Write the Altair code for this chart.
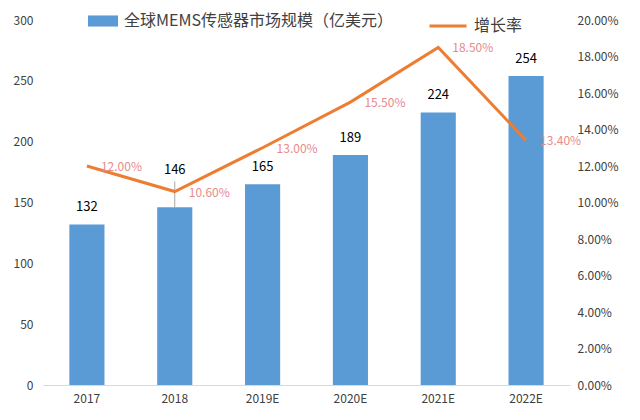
import altair as alt
import pandas as pd

years = ["2017", "2018", "2019E", "2020E", "2021E", "2022E"]
market = [132, 146, 165, 189, 224, 254]
growth = [0.12, 0.106, 0.13, 0.155, 0.185, 0.134]
bar_series = "全球MEMS传感器市场规模（亿美元）"
line_series = "增长率"

df = pd.DataFrame({
    "year": years,
    "market": market,
    "growth": growth,
    "s1": [bar_series] * len(years),
    "s2": [line_series] * len(years),
})

FONT = "Noto Sans CJK SC"
BLUE = "#5B9BD5"
ORANGE = "#ED7D31"

x = alt.X("year:N", sort=years, title=None,
          scale=alt.Scale(paddingInner=0.6, paddingOuter=0.3),
          axis=alt.Axis(labelAngle=0, ticks=False, domainColor="#d9d9d9",
                        labelPadding=8, labelFontSize=12, labelColor="#404040",
                        labelFont=FONT))

yL = alt.Y("market:Q", title=None,
           scale=alt.Scale(domain=[0, 300], nice=False),
           axis=alt.Axis(orient="left", values=[0, 50, 100, 150, 200, 250, 300],
                         grid=False, domain=False, ticks=False, labelPadding=10,
                         labelFontSize=12, labelColor="#404040", labelFont=FONT,
                         title=None))

base = alt.Chart(df)

bars = base.mark_bar(color=BLUE).encode(
    x=x, y=yL,
    fill=alt.Fill("s1:N", scale=alt.Scale(range=[BLUE]), title=None,
                  legend=alt.Legend(orient="none", legendX=45, legendY=-14,
                                    symbolType="M-1,-0.37h2v0.74h-2z",
                                    symbolSize=900, symbolStrokeWidth=0,
                                    labelFontSize=16, labelFont=FONT,
                                    labelColor="#404040", padding=0,
                                    labelOffset=6, labelLimit=0)),
)

bar_labels = base.mark_text(dy=-17, fontSize=13, font=FONT, color="#000000").encode(
    x=x, y=yL, text="market:Q"
).transform_filter(alt.datum.year != "2018")

bar_label_2018 = base.mark_text(dy=-37, fontSize=13, font=FONT, color="#000000").encode(
    x=x, y=yL, text="market:Q"
).transform_filter(alt.datum.year == "2018")

leader = base.mark_rule(color="#a6a6a6", strokeWidth=1, y2Offset=-26).encode(
    x=x, y=yL, y2="market:Q"
).transform_filter(alt.datum.year == "2018")

left = alt.layer(bars, leader, bar_labels, bar_label_2018)

yR = alt.Y("growth:Q", title=None,
           scale=alt.Scale(domain=[0, 0.2], nice=False),
           axis=alt.Axis(orient="right", values=[i / 100 for i in range(0, 21, 2)],
                         format=".2%", grid=False, domain=False, ticks=False,
                         labelPadding=7, labelFontSize=12, labelColor="#404040",
                         labelFont=FONT, title=None))

line = base.mark_line(strokeWidth=3).encode(
    x=x, y=yR,
    stroke=alt.Stroke("s2:N", scale=alt.Scale(range=[ORANGE]), title=None,
                      legend=alt.Legend(orient="none", legendX=385, legendY=-14,
                                        symbolType="stroke", symbolSize=1369,
                                        symbolStrokeWidth=3,
                                        labelFontSize=16, labelFont=FONT,
                                        labelColor="#404040", padding=0,
                                        labelOffset=6, labelLimit=0)),
)

growth_labels = base.mark_text(align="left", dx=14, dy=1, fontSize=12, font=FONT,
                               color="#E88A8A").encode(
    x=x, y=yR,
    text=alt.Text("growth:Q", format=".2%"),
)

right = alt.layer(line, growth_labels)

chart = alt.layer(left, right).resolve_scale(y="independent").properties(
    width=527, height=365,
    autosize=alt.AutoSizeParams(type="none"),
    padding={"left": 35, "top": 12, "right": 60, "bottom": 25},
    background="white",
).configure_view(stroke=None)

chart.save("out.html", embed_options={"renderer": "svg", "actions": False})
